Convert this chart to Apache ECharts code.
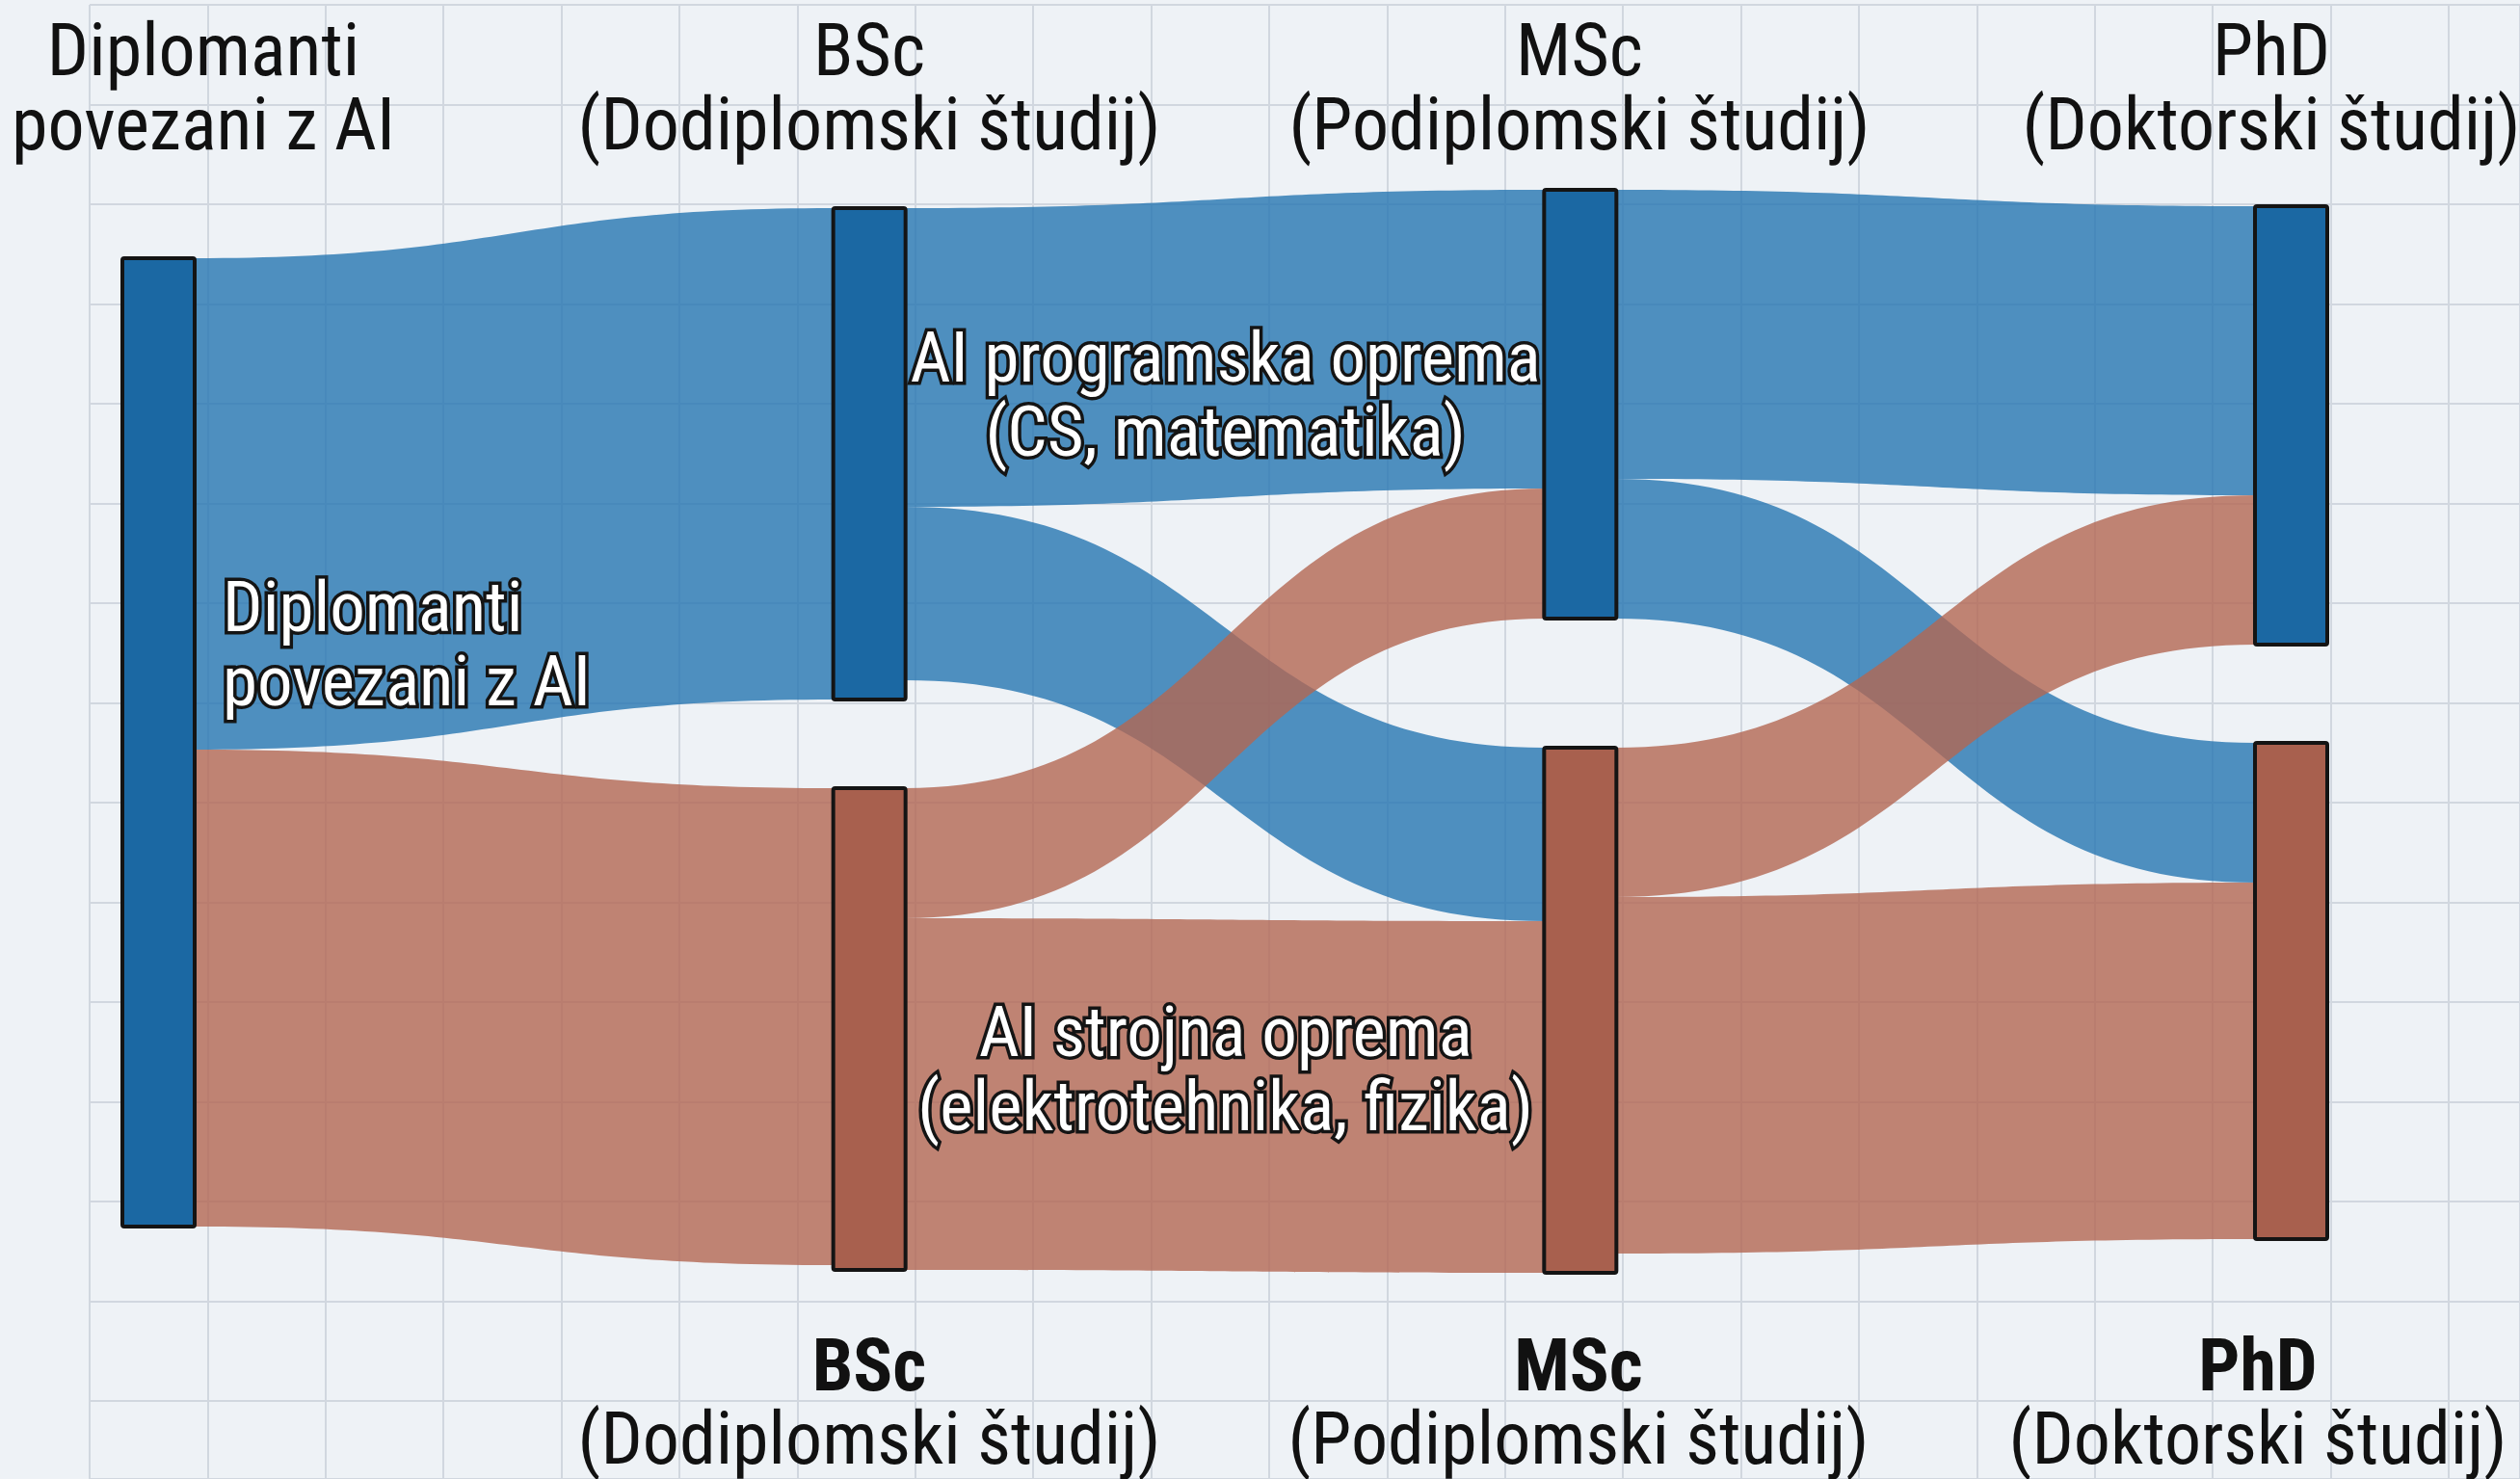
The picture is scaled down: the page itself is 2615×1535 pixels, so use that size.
<!DOCTYPE html>
<html>
<head>
<meta charset="utf-8">
<script src="https://cdn.jsdelivr.net/npm/echarts@6/dist/echarts.min.js"></script>
<style>
html,body{margin:0;padding:0;background:#eef2f6;}
#chart{width:2615px;height:1535px;}
</style>
</head>
<body>
<div id="chart"></div>
<script>
// ---------- DATA ----------
const columnTitles = ['Diplomanti\npovezani z AI', 'BSc\n(Dodiplomski študij)', 'MSc\n(Podiplomski študij)', 'PhD\n(Doktorski študij)'];
const footerTitles = ['BSc', 'MSc', 'PhD'];
const footerSubtitles = ['(Dodiplomski študij)', '(Podiplomski študij)', '(Doktorski študij)'];

const nodeNames = [
  'Diplomanti povezani z AI',
  'BSc – AI programska oprema',
  'BSc – AI strojna oprema',
  'MSc – AI programska oprema',
  'MSc – AI strojna oprema',
  'PhD – AI programska oprema',
  'PhD – AI strojna oprema'
];
const nodeGroups = ['sw', 'sw', 'hw', 'sw', 'hw', 'sw', 'hw'];
const nodeLabels = ['Diplomanti\npovezani z AI', 'AI programska oprema\n(CS, matematika)', 'AI strojna oprema\n(elektrotehnika, fizika)', '', '', '', ''];

const linkSources = [0, 0, 1, 1, 2, 2, 3, 3, 4, 4];
const linkTargets = [1, 2, 3, 4, 3, 4, 5, 6, 5, 6];
const linkValues  = [51, 49.5, 31, 18, 13.5, 36.5, 30, 14.5, 15.5, 37];
const linkGroups  = ['sw', 'hw', 'sw', 'sw', 'hw', 'hw', 'sw', 'sw', 'hw', 'hw'];

// ---------- STYLE / LAYOUT ----------
const FONT = '"Roboto Condensed","Liberation Sans Narrow","Arial Narrow",Roboto,sans-serif';
const FS = 76, LH = 75;
const LFS = 73;
const palette = {
  sw: { node: '#1b68a3', link: '#2676b1' },
  hw: { node: '#a8604e', link: '#b36752' }
};
const SERIES_TOP = 100, SERIES_BOTTOM = 235, CANVAS_H = 1535;
const SERIES_H = CANVAS_H - SERIES_TOP - SERIES_BOTTOM;
// vertical placement of each node (top edge, px) as in the reference layout
const nodePlaceY = [268, 216, 818, 197, 776, 214, 771];
const labelCfg = [
  { position: 'right', distance: 27, align: 'left', offset: [0, -95] },
  { position: 'right', distance: 0, align: 'center', offset: [330, -55] },
  { position: 'right', distance: 0, align: 'center', offset: [330, 48] },
  null, null, null, null
];
const headerX = [211, 902, 1639, 2357];
const footerX = [902, 1638, 2343];

const nodes = nodeNames.map((name, i) => {
  const n = {
    name: name,
    localY: (nodePlaceY[i] - SERIES_TOP) / SERIES_H,
    itemStyle: { color: palette[nodeGroups[i]].node }
  };
  if (labelCfg[i]) {
    n.label = Object.assign({
      show: true,
      formatter: nodeLabels[i],
      color: '#ffffff',
      fontFamily: FONT,
      fontSize: LFS,
      lineHeight: LH + 2,
      textBorderColor: '#141414',
      textBorderWidth: 7
    }, labelCfg[i]);
  }
  return n;
});

const links = linkValues.map((v, i) => ({
  source: nodeNames[linkSources[i]],
  target: nodeNames[linkTargets[i]],
  value: v,
  lineStyle: { color: palette[linkGroups[i]].link, opacity: 0.8, curveness: 0.5 }
}));

const titles = [];
columnTitles.forEach((t, i) => {
  titles.push({
    text: t, left: headerX[i], top: 20, textAlign: 'center', padding: 0,
    textStyle: { fontFamily: FONT, fontSize: FS, lineHeight: LH + 2, fontWeight: 'normal', color: '#111111' }
  });
});
footerTitles.forEach((t, i) => {
  titles.push({
    text: t, subtext: footerSubtitles[i], left: footerX[i], top: 1386, textAlign: 'center', padding: 0, itemGap: 0,
    textStyle: { fontFamily: FONT, fontSize: FS, lineHeight: LH, fontWeight: 'bold', color: '#111111' },
    subtextStyle: { fontFamily: FONT, fontSize: FS, lineHeight: LH, fontWeight: 'normal', color: '#111111' }
  });
});

const gridLine = { show: true, lineStyle: { color: '#d1d7df', width: 2 } };
const hidden = { axisLine: { show: false }, axisTick: { show: false }, axisLabel: { show: false } };

const option = {
  backgroundColor: '#eef2f6',
  animation: false,
  title: titles,
  grid: { left: 93, right: 0, top: 5, bottom: 0, show: false },
  xAxis: Object.assign({ type: 'value', min: 0, max: (2615 - 93) / 122.4, interval: 1, splitLine: gridLine }, hidden),
  yAxis: Object.assign({ type: 'value', inverse: true, min: 0, max: (1535 - 5) / 103.5, interval: 1, splitLine: gridLine }, hidden),
  series: [{
    type: 'sankey',
    left: 127, right: 200, top: SERIES_TOP, bottom: SERIES_BOTTOM,
    nodeWidth: 75,
    nodeGap: 190,
    layoutIterations: 0,
    draggable: false,
    emphasis: { focus: 'none', disabled: true },
    itemStyle: { borderColor: '#141414', borderWidth: 4, borderRadius: 2 },
    label: { show: false },
    lineStyle: { curveness: 0.5, opacity: 0.8 },
    data: nodes,
    links: links
  }]
};

const chart = echarts.init(document.getElementById('chart'), null, { renderer: 'canvas' });
chart.setOption(option);
</script>
</body>
</html>
